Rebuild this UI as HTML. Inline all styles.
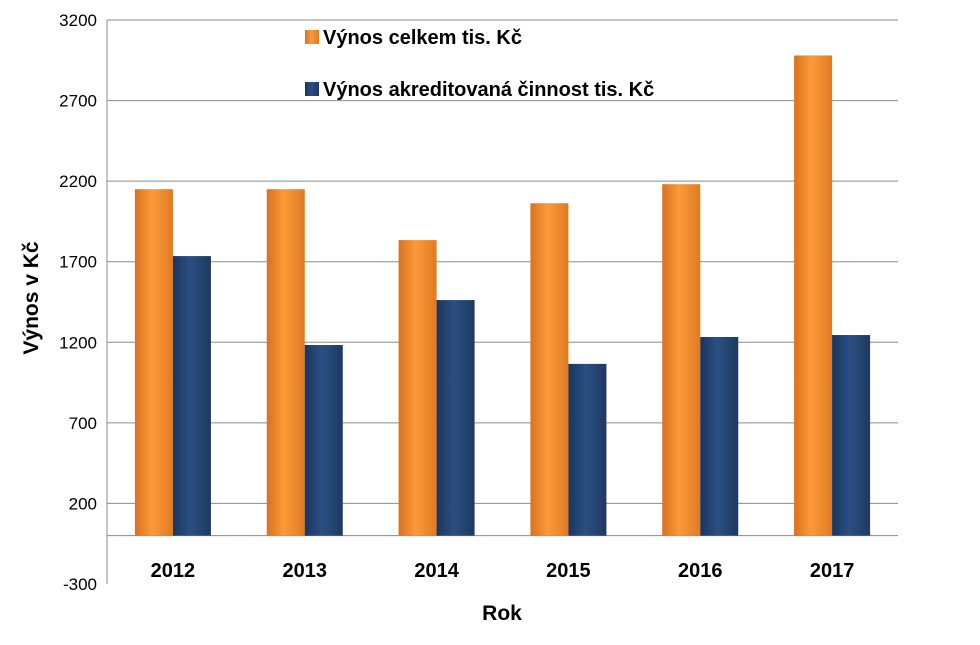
<!DOCTYPE html>
<html><head><meta charset="utf-8"><style>
body{margin:0;background:#fff;}
svg{display:block;font-family:"Liberation Sans",Arial,sans-serif;}
</style></head><body>
<svg id="chart" width="980" height="645">
<defs>
<linearGradient id="gO" x1="0" x2="1" y1="0" y2="0">
<stop offset="0" stop-color="#d9711f"/><stop offset="0.45" stop-color="#fb9a3a"/><stop offset="1" stop-color="#e07a22"/></linearGradient>
<linearGradient id="gB" x1="0" x2="1" y1="0" y2="0">
<stop offset="0" stop-color="#1b355d"/><stop offset="0.45" stop-color="#2b4f82"/><stop offset="1" stop-color="#1d3961"/></linearGradient>
</defs>
<g id="grid"></g><g id="bars"></g><g id="labels"></g>
<text x="38" y="298" transform="rotate(-90 38 298)" text-anchor="middle" font-size="21" font-weight="bold">Výnos v Kč</text>
<text x="502" y="620" text-anchor="middle" font-size="21" font-weight="bold">Rok</text>
<g>
<rect x="305" y="30" width="14" height="14" fill="url(#gO)"/>
<text x="323" y="44" font-size="20" font-weight="bold">Výnos celkem tis. Kč</text>
<rect x="305" y="82" width="14" height="14" fill="url(#gB)"/>
<text x="323" y="96" font-size="20" font-weight="bold">Výnos akreditovaná činnost tis. Kč</text>
</g>
</svg>
<script>
const categories=["2012","2013","2014","2015","2016","2017"];
const totalValues=[2150,2150,1834,2063,2181,2980];
const accreditedValues=[1735,1183,1462,1066,1233,1245];
const yTicks=[-300,200,700,1200,1700,2200,2700,3200];
const NS="http://www.w3.org/2000/svg";
const L=107,R=898,yMin=-300,yMax=3200,yTop=20,yBot=584;
function y(v){return yBot-(v-yMin)/(yMax-yMin)*(yBot-yTop);}
const gw=(R-L)/categories.length;
function x(i){return L+gw*i+gw/2;}
function mk(tag,attrs,parent){const e=document.createElementNS(NS,tag);for(const k in attrs)e.setAttribute(k,attrs[k]);parent.appendChild(e);return e;}
const grid=document.getElementById('grid'),bars=document.getElementById('bars'),labels=document.getElementById('labels');
yTicks.forEach(t=>{
 if(t>yMin){const l=mk('line',{x1:L,x2:R,y1:y(t),y2:y(t),stroke:'#8c8c8c','stroke-width':1},grid);
 
 }
 const tx=mk('text',{x:L-10,y:y(t)+6,'text-anchor':'end','font-size':17},labels);
 tx.textContent=t;
 
 
});
const ax=mk('line',{x1:L,x2:L,y1:yTop,y2:yBot,stroke:'#8c8c8c'},grid);


const xa=mk('line',{x1:L,x2:R,y1:y(0),y2:y(0),stroke:'#8c8c8c'},grid);


const bw=38;
categories.forEach((c,i)=>{
 const cx=x(i);
 const b1=mk('rect',{x:cx-bw,y:y(totalValues[i]),width:bw,height:y(0)-y(totalValues[i]),fill:'url(#gO)'},bars);
 
 
 const b2=mk('rect',{x:cx,y:y(accreditedValues[i]),width:bw,height:y(0)-y(accreditedValues[i]),fill:'url(#gB)'},bars);
 
 
 const t=mk('text',{x:cx,y:577,'text-anchor':'middle','font-size':20,'font-weight':'bold'},labels);
 t.textContent=c;
 
 
});
</script>
</body></html>
